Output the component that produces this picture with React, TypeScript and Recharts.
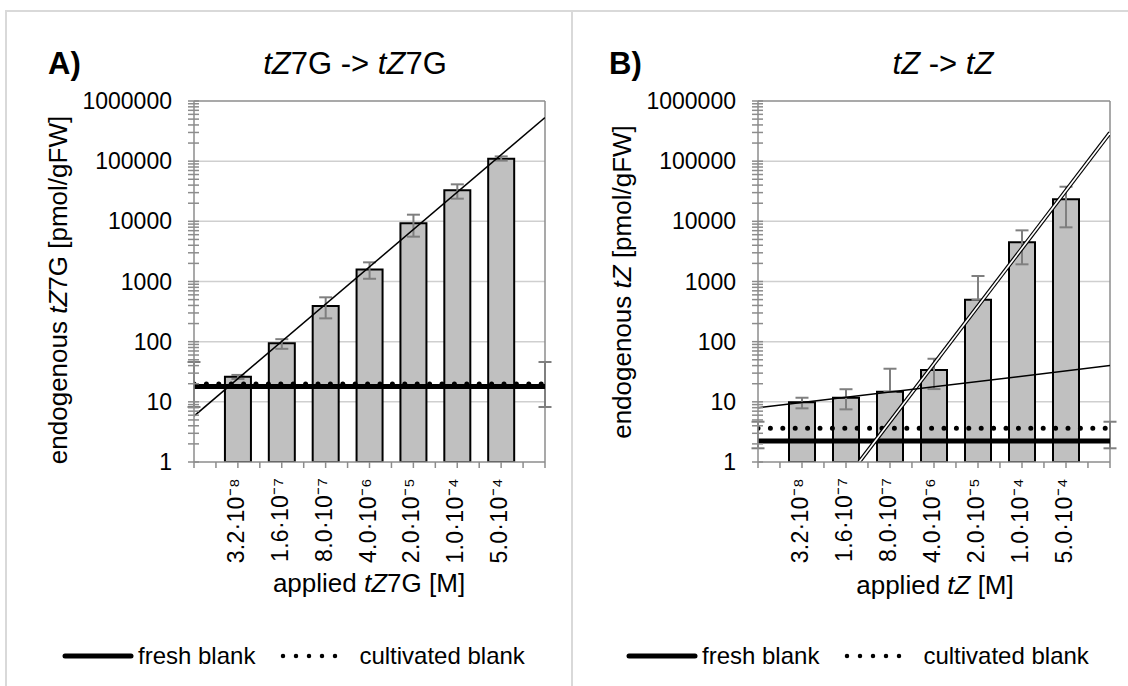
import React from "react";
import {
  ComposedChart,
  Bar,
  Line,
  XAxis,
  YAxis,
  ErrorBar,
  CartesianGrid,
  ReferenceLine,
} from "recharts";

// categories (x positions 1..7, 0 and 8 are empty edge slots)
const CATEGORY_POS = [1, 2, 3, 4, 5, 6, 7];
const CATEGORY_LABELS = [
  "3.2·10⁻⁸",
  "1.6·10⁻⁷",
  "8.0·10⁻⁷",
  "4.0·10⁻⁶",
  "2.0·10⁻⁵",
  "1.0·10⁻⁴",
  "5.0·10⁻⁴",
];

const MAJOR_TICKS = [1, 10, 100, 1000, 10000, 100000, 1000000];
const MINOR_STEPS = [2, 3, 4, 5, 6, 7, 8, 9];

// panel A: tZ7G -> tZ7G
const A_VALUES = [26, 94, 392, 1590, 9270, 32700, 110000];
const A_ERR_LOW = [2, 18, 148, 480, 3710, 8900, 8000];
const A_ERR_HIGH = [2, 16, 154, 492, 3630, 8500, 10000];
const A_TREND = [5.8, 530000]; // at x = 0 and x = 8
const A_FRESH = 17.9;
const A_FRESH_ERR = [9.7, 28];
const A_CULTIVATED = 19.8;

// panel B: tZ -> tZ
const B_VALUES = [9.8, 11.7, 14.7, 33.8, 498, 4480, 23200];
const B_ERR_LOW = [2.0, 4.2, 0, 17.5, 0, 2550, 15250];
const B_ERR_HIGH = [1.9, 4.5, 20.8, 18.2, 736, 2600, 14400];
const B_TREND_STEEP_X = [2.3, 8];
const B_TREND_STEEP = [1, 296000];
const B_TREND_FLAT = [7.95, 40]; // at x = 0 and x = 8
const B_FRESH = 2.23;
const B_FRESH_ERR = [0.54, 2.44];
const B_CULTIVATED = 3.63;

const FONT = '"Liberation Sans", Arial, sans-serif';
const AXIS_GRAY = "#8c8c8c";
const HALF_STEP = 21.95;

const allTicks: number[] = [];
MAJOR_TICKS.forEach((t, i) => {
  allTicks.push(t);
  if (i < MAJOR_TICKS.length - 1) MINOR_STEPS.forEach((m) => allTicks.push(m * t));
});

function YTick(props: any) {
  const { x, y, payload } = props;
  const v = payload.value;
  const major = MAJOR_TICKS.includes(v);
  return (
    <g>
      <line x1={x - 6} x2={x + 5} y1={y} y2={y} stroke={AXIS_GRAY} strokeWidth={1.5} />
      {major && (
        <text x={x - 22} y={y} textAnchor="end" dominantBaseline="central" fontSize={23} fontFamily={FONT} fill="#000">
          {v}
        </text>
      )}
    </g>
  );
}

function XTick(props: any) {
  const { x, y, payload } = props;
  const v = payload.value;
  const idx = CATEGORY_POS.indexOf(v);
  return (
    <g>
      <line x1={x} x2={x} y1={y} y2={y + 6} stroke={AXIS_GRAY} strokeWidth={1.5} />
      {v < 8 && <line x1={x + HALF_STEP} x2={x + HALF_STEP} y1={y} y2={y + 6} stroke={AXIS_GRAY} strokeWidth={1.5} />}
      {idx >= 0 && (
        <text
          transform={`translate(${x + 6},${y + 16}) rotate(-90)`}
          textAnchor="end"
          fontSize={23}
          letterSpacing={0.3}
          fontFamily={FONT}
          fill="#000"
        >
          {CATEGORY_LABELS[idx]}
        </text>
      )}
    </g>
  );
}

type PanelProps = {
  values: number[];
  errLow: number[];
  errHigh: number[];
  fresh: number;
  freshErr: number[];
  cultivated: number;
  steep?: { x: number; y: number }[];
  trends: { x: number; y: number }[][];
  width: number;
  left: number;
  right: number;
};

function Panel(p: PanelProps) {
  const barData = CATEGORY_POS.map((x, i) => ({
    x,
    v: p.values[i],
    err: [p.errLow[i], p.errHigh[i]],
  }));
  const freshData = [
    { x: 0, y: p.fresh, err: p.freshErr },
    { x: 8, y: p.fresh, err: p.freshErr },
  ];
  const cultData = [
    { x: 0, y: p.cultivated },
    { x: 8, y: p.cultivated },
  ];
  return (
    <ComposedChart
      width={p.width}
      height={686}
      data={barData}
      margin={{ top: 101, right: p.right, bottom: 194, left: p.left }}
    >
      <CartesianGrid vertical={false} horizontalValues={[10, 100, 1000, 10000, 100000]} stroke="#cfcfcf" strokeWidth={1.5} />
      <XAxis
        dataKey="x"
        type="number"
        domain={[0, 8]}
        ticks={[0, 1, 2, 3, 4, 5, 6, 7, 8]}
        allowDataOverflow
        height={30}
        tickSize={0}
        tickMargin={0}
        tickLine={false}
        tick={<XTick />}
        axisLine={{ stroke: AXIS_GRAY, strokeWidth: 1.5 }}
        interval={0}
      />
      <XAxis xAxisId="t" dataKey="x" type="number" domain={[0, 8]} allowDataOverflow hide />
      <YAxis
        scale="log"
        type="number"
        domain={[1, 1000000]}
        allowDataOverflow
        ticks={allTicks}
        interval={0}
        width={100}
        tickSize={0}
        tickMargin={0}
        tickLine={false}
        tick={<YTick />}
        axisLine={{ stroke: AXIS_GRAY, strokeWidth: 1.5 }}
      />
      <ReferenceLine y={1000000} stroke={AXIS_GRAY} strokeWidth={1.5} />
      <ReferenceLine x={8} stroke={AXIS_GRAY} strokeWidth={1.5} />
      <Bar dataKey="v" barSize={26} fill="#c0c0c0" stroke="#000" strokeWidth={2} isAnimationActive={false}>
        <ErrorBar dataKey="err" width={6.5} stroke="#7f7f7f" strokeWidth={2} />
      </Bar>
      <Line xAxisId="t" data={freshData} dataKey="y" stroke="#000" strokeWidth={5} dot={false} isAnimationActive={false}>
        <ErrorBar dataKey="err" width={6.5} stroke="#7f7f7f" strokeWidth={2} />
      </Line>
      <Line
        xAxisId="t"
        data={cultData}
        dataKey="y"
        stroke="#000"
        strokeWidth={5}
        strokeDasharray="0 12.4"
        strokeLinecap="round"
        dot={false}
        isAnimationActive={false}
      />
      {p.steep && (
        <Line xAxisId="t" data={p.steep} dataKey="y" stroke="#000" strokeWidth={4} dot={false} isAnimationActive={false} />
      )}
      {p.steep && (
        <Line xAxisId="t" data={p.steep} dataKey="y" stroke="#fff" strokeWidth={1.6} dot={false} isAnimationActive={false} />
      )}
      {p.trends.map((t, i) => (
        <Line key={i} xAxisId="t" data={t} dataKey="y" stroke="#000" strokeWidth={1.5} dot={false} isAnimationActive={false} />
      ))}
    </ComposedChart>
  );
}

function LegendRow({ left }: { left: number }) {
  return (
    <div style={{ position: "absolute", left, top: 641, height: 30, display: "flex", alignItems: "center", fontFamily: FONT, fontSize: 24 }}>
      <svg width={72} height={10} style={{ marginRight: 4 }}>
        <line x1={3} x2={69} y1={5} y2={5} stroke="#000" strokeWidth={5} strokeLinecap="round" />
      </svg>
      <span>fresh blank</span>
      <svg width={70} height={10} style={{ marginLeft: 25, marginRight: 9 }}>
        <line x1={3} x2={68} y1={5} y2={5} stroke="#000" strokeWidth={4.5} strokeDasharray="0 13" strokeLinecap="round" />
      </svg>
      <span>cultivated blank</span>
    </div>
  );
}

const abs = (style: React.CSSProperties): React.CSSProperties => ({ position: "absolute", whiteSpace: "nowrap", fontFamily: FONT, ...style });

export default function App() {
  const trendA = [
    { x: 0, y: A_TREND[0] },
    { x: 8, y: A_TREND[1] },
  ];
  const steepB = B_TREND_STEEP_X.map((x, i) => ({ x, y: B_TREND_STEEP[i] }));
  const flatB = [
    { x: 0, y: B_TREND_FLAT[0] },
    { x: 8, y: B_TREND_FLAT[1] },
  ];
  return (
    <div style={{ position: "absolute", left: 0, top: 0, width: 1128, height: 686, background: "#fff", overflow: "hidden" }}>
      <div style={abs({ left: 5, top: 10, width: 1130, height: 700, border: "2px solid #d9d9d9" })} />
      <div style={abs({ left: 571, top: 10, width: 2, height: 700, background: "#d9d9d9" })} />

      <div style={abs({ left: 0, top: 0 })}>
        <Panel
          values={A_VALUES}
          errLow={A_ERR_LOW}
          errHigh={A_ERR_HIGH}
          fresh={A_FRESH}
          freshErr={A_FRESH_ERR}
          cultivated={A_CULTIVATED}
          trends={[trendA]}
          width={572}
          left={94}
          right={27}
        />
      </div>
      <div style={abs({ left: 572, top: 0 })}>
        <Panel
          values={B_VALUES}
          errLow={B_ERR_LOW}
          errHigh={B_ERR_HIGH}
          fresh={B_FRESH}
          freshErr={B_FRESH_ERR}
          cultivated={B_CULTIVATED}
          steep={steepB}
          trends={[flatB]}
          width={556}
          left={86}
          right={18}
        />
      </div>

      {/* titles */}
      <div style={abs({ left: 48, top: 46, fontSize: 31, fontWeight: "bold" })}>A)</div>
      <div style={abs({ left: 355, top: 46, fontSize: 31, transform: "translateX(-50%)" })}>
        <i>tZ</i>7G -&gt; <i>tZ</i>7G
      </div>
      <div style={abs({ left: 609, top: 46, fontSize: 31, fontWeight: "bold" })}>B)</div>
      <div style={abs({ left: 943, top: 46, fontSize: 31, transform: "translateX(-50%)" })}>
        <i>tZ</i> -&gt; <i>tZ</i>
      </div>

      {/* axis titles */}
      <div style={abs({ left: 58, top: 290, fontSize: 26, transform: "translate(-50%,-50%) rotate(-90deg)" })}>
        endogenous <i>tZ</i>7G [pmol/gFW]
      </div>
      <div style={abs({ left: 369, top: 583, fontSize: 26, transform: "translate(-50%,-50%)" })}>
        applied <i>tZ</i>7G [M]
      </div>
      <div style={abs({ left: 622, top: 282, fontSize: 26, transform: "translate(-50%,-50%) rotate(-90deg)" })}>
        endogenous <i>tZ</i> [pmol/gFW]
      </div>
      <div style={abs({ left: 935, top: 585, fontSize: 26, transform: "translate(-50%,-50%)" })}>
        applied <i>tZ</i> [M]
      </div>

      <LegendRow left={62} />
      <LegendRow left={626} />
    </div>
  );
}
